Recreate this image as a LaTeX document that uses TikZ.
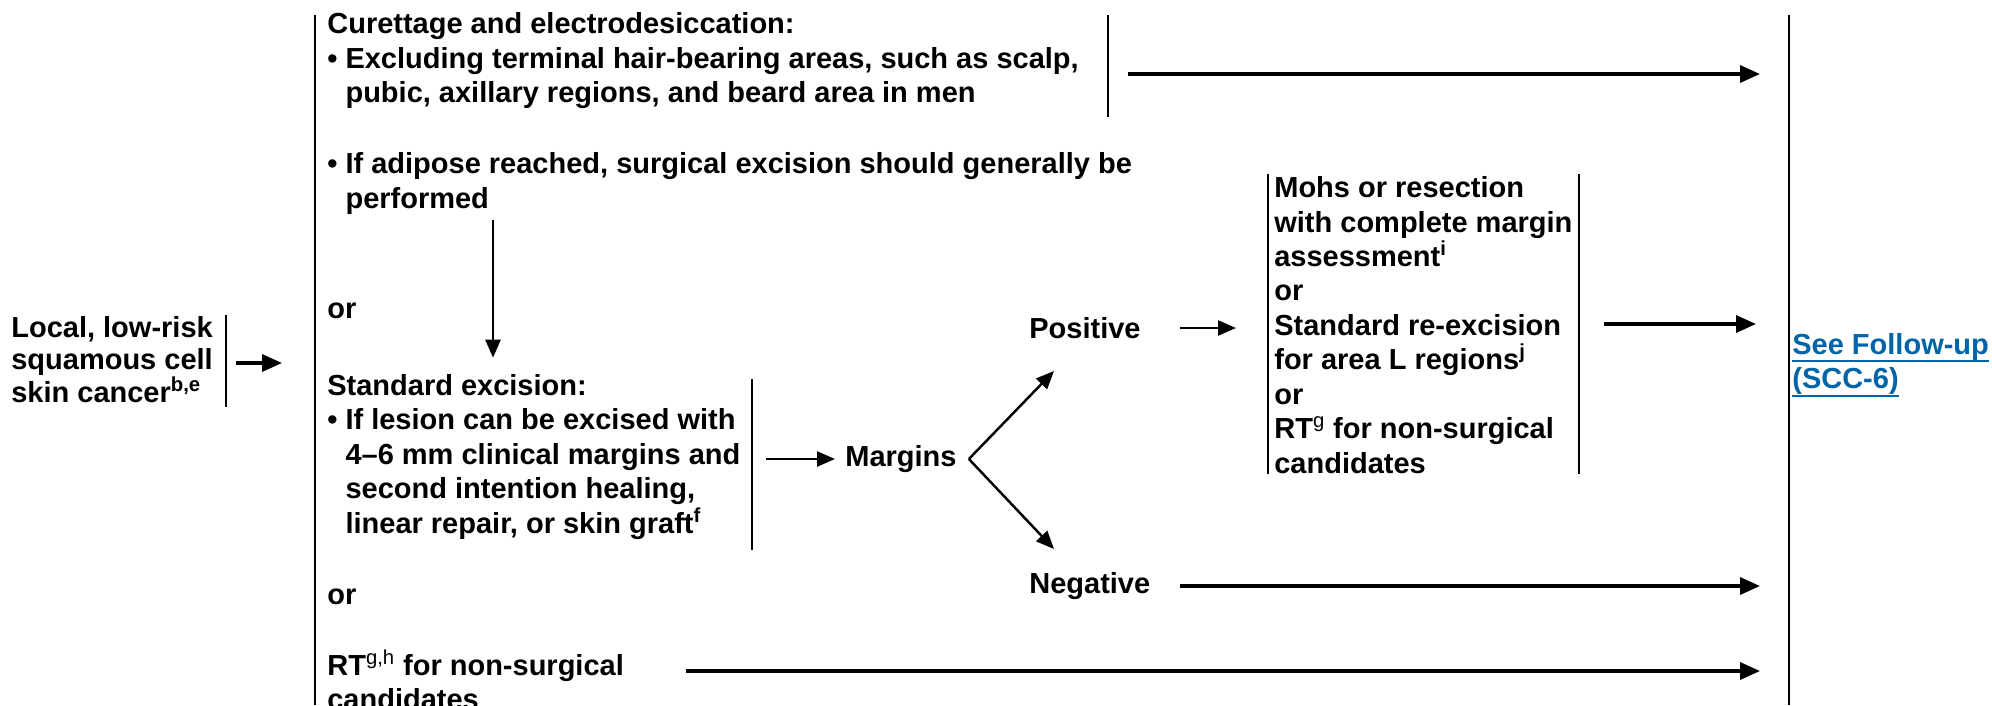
\documentclass[tikz,border=0pt]{standalone}
\usepackage{fontspec}
\setsansfont{Liberation Sans}
\usepackage{xcolor}
\usetikzlibrary{arrows.meta}

\definecolor{linkblue}{RGB}{0,100,168}
\newcommand{\bulletgap}{\phantom{\textbullet\ }}
\newcommand{\linkline}[1]{\setbox0\hbox{#1}\rlap{\rule[-0.27em]{\wd0}{1.1pt}}\box0}

\begin{document}
\begin{tikzpicture}[
        font=\sffamily\bfseries\fontsize{16.5pt}{19.6pt}\selectfont,
        >={Triangle[length=0.4cm, width=0.34cm]},
        % text blocks, left aligned, no padding
        txt/.style={anchor=west, align=left, inner sep=0pt},
        % the vertical rules beside the blocks
        bar/.style={line width=1.3pt},
        arr/.style={->, line width=1.9pt},
        thinarr/.style={->, line width=1.4pt, >={Triangle[length=0.36cm, width=0.3cm]}}
    ]
    \useasboundingbox (0,0) rectangle (39.84,14.1);

        % ==========================
        % VERTICAL RULES
        % ==========================
        \draw[bar] (4.52,7.80) -- (4.52,5.96);      % presentation
        \draw[bar] (6.30,13.80) -- (6.30,0);        % treatment column
        \draw[bar] (22.16,13.80) -- (22.16,11.76);  % curettage
        \draw[bar] (15.04,6.52) -- (15.04,3.10);    % standard excision
        \draw[bar] (25.36,10.62) -- (25.36,4.62);   % re-treatment, left
        \draw[bar] (31.58,10.62) -- (31.58,4.62);   % re-treatment, right
        \draw[bar] (35.78,13.80) -- (35.78,0);      % follow-up column

        % arrow ends on the rules
        \coordinate (riskBar) at (4.52,6.84);
        \coordinate (lbar)    at (6.30,6.84);
        \coordinate (curBar)  at (22.16,12.62);
        \coordinate (stdBar)  at (15.04,4.92);
        \coordinate (mohsL)   at (25.36,7.54);
        \coordinate (mohsR)   at (31.58,7.62);
        \coordinate (rbar)    at (35.78,7.00);
        \coordinate (drop)    at (9.86,0);
        \coordinate (rtOut)   at (13.72,0.68);

        % ==========================
        % PRESENTATION
        % ==========================
        \node[txt, font=\sffamily\bfseries\fontsize{16.5pt}{18pt}\selectfont] (risk) at (0.22,6.90)
            {Local, low-risk\\squamous cell\\skin cancer\textsuperscript{b,e}};

        \draw[arr, shorten <=0.2cm, shorten >=0.66cm] (riskBar) -- (riskBar -| lbar);

        % ==========================
        % PRIMARY TREATMENT
        % ==========================
        \node[txt] (cur) at (6.54,12.88)
            {Curettage and electrodesiccation:\\
             \textbullet\ Excluding terminal hair-bearing areas, such as scalp,\\
             \bulletgap pubic, axillary regions, and beard area in men};
        \node[txt] (adip) at (6.54,10.43)
            {\textbullet\ If adipose reached, surgical excision should generally be\\
             \bulletgap performed};
        \node[txt] (or1) at (6.54,7.88) {or};
        \node[txt] (stdex) at (6.54,4.96)
            {Standard excision:\\
             \textbullet\ If lesion can be excised with\\
             \bulletgap 4–6 mm clinical margins and\\
             \bulletgap second intention healing,\\
             \bulletgap linear repair, or skin graft\textsuperscript{f}};
        \node[txt] (or2) at (6.54,2.16) {or};
        \node[txt] (rt) at (6.54,0.50)
            {RT\textsuperscript{\mdseries g,h} for non-surgical\\candidates};

        \draw[arr, shorten <=0.4cm, shorten >=0.58cm] (curBar) -- (curBar -| rbar);
        \draw[thinarr, shorten <=0.1cm, shorten >=0.33cm] (adip.south -| drop) -- (stdex.north -| drop);
        \draw[arr, shorten >=0.58cm] (rtOut) -- (rtOut -| rbar);

        % ==========================
        % MARGINS
        % ==========================
        \node[txt] (margins)  at (16.90,4.92) {Margins};
        \node[txt] (positive) at (20.58,7.54) {Positive};
        \node[txt] (negative) at (20.58,2.38) {Negative};

        \coordinate (fork)   at ([xshift=0.24cm]margins.east);
        \coordinate (posTip) at (21.08,6.68);
        \coordinate (negTip) at (21.08,3.12);

        \draw[thinarr, shorten <=0.28cm, shorten >=0.2cm] (stdBar) -- (stdBar -| margins.west);
        \draw[thinarr] (fork) -- (posTip);
        \draw[thinarr] (fork) -- (negTip);

        % ==========================
        % RE-TREATMENT AND FOLLOW-UP
        % ==========================
        \node[txt] (mohs) at (25.48,7.60)
            {Mohs or resection\\
             with complete margin\\
             assessment\textsuperscript{i}\\
             or\\
             Standard re-excision\\
             for area L regions\textsuperscript{j}\\
             or\\
             RT\textsuperscript{\mdseries g} for non-surgical\\
             candidates};
        \node[txt, text=linkblue] (follow) at (35.84,6.80)
            {\linkline{See Follow-up}\\\linkline{(SCC-6)}};

        \draw[thinarr, shorten <=0.78cm, shorten >=0.64cm] (positive.east) -- (positive.east -| mohsL);
        \draw[arr, shorten <=0.5cm, shorten >=0.66cm] (mohsR) -- (mohsR -| rbar);
        \draw[arr, shorten <=0.58cm, shorten >=0.58cm] (negative.east) -- (negative.east -| rbar);

    \end{tikzpicture}
\end{document}
